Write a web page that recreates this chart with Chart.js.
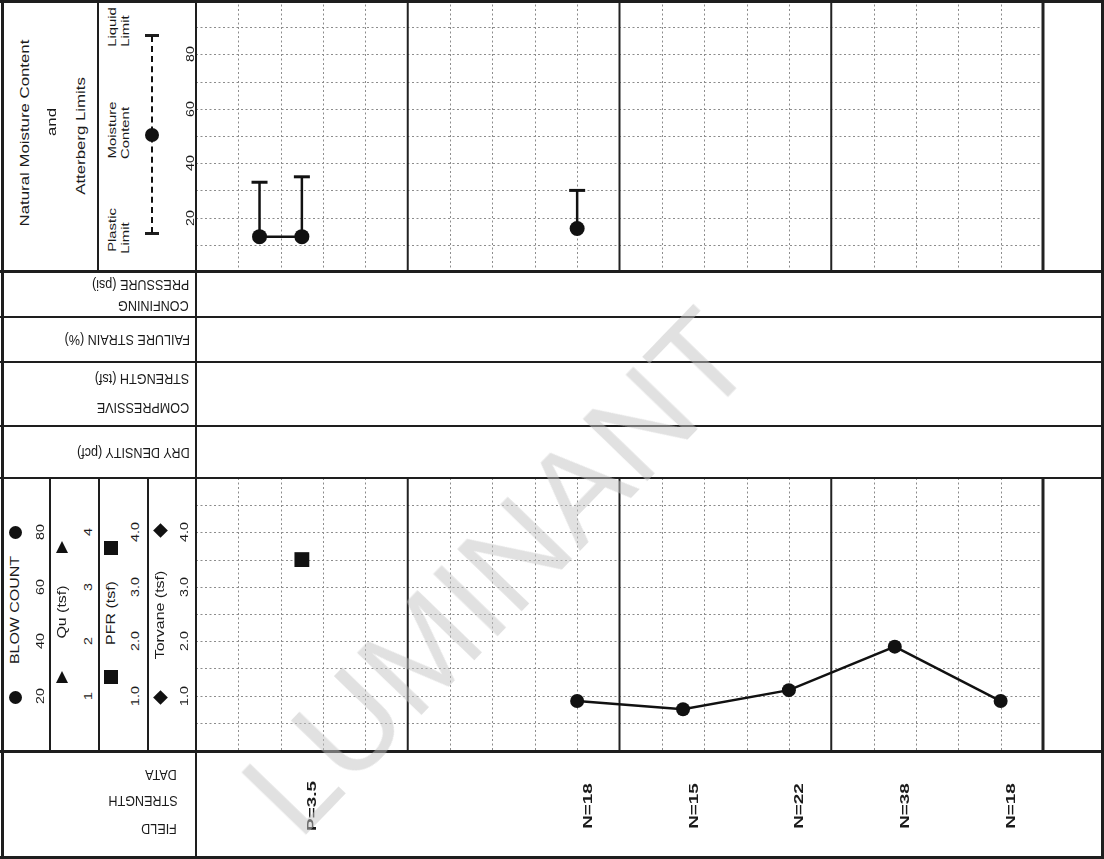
<!DOCTYPE html>
<html>
<head>
<meta charset="utf-8">
<script src="https://cdn.jsdelivr.net/npm/chart.js@4.4.1/dist/chart.umd.min.js"></script>
<style>
  body { margin: 0; background: #fff; }
  #log { position: relative; width: 1104px; height: 859px; overflow: hidden; background: #fff;
         font-family: "Liberation Sans", Arial, sans-serif; color: #1a1a1a; }
  canvas { position: absolute; z-index: 1; }
  .ln { position: absolute; background: #1e1e1e; z-index: 2; }
  .lbl { position: absolute; white-space: nowrap; z-index: 3; line-height: 1; }
  .sym { position: absolute; z-index: 3; background: #111; }
  #mark { position: absolute; left: 497px; top: 572px; z-index: 4; white-space: nowrap;
          font-size: 130px; color: rgba(195, 195, 195, 0.5); line-height: 1;
          transform: translate(-50%, -50%) rotate(-46deg); pointer-events: none; }
</style>
</head>
<body>
<div id="log">
  <canvas id="upper" width="851" height="272" style="left:196px;top:0px"></canvas>
  <canvas id="lower" width="851" height="381" style="left:196px;top:478px"></canvas>
  <div id="mark">LUMINANT</div>
</div>
<script>
// sample depths run left to right, 1 ft per minor grid line
const moistureDepth = [1.5, 2.5, 9];
const moistureContent = [13, 13, 16];
const liquidLimit = [33, 35, 30];

const blowDepth = [9, 11.5, 14, 16.5, 19];
const blowCount = [18, 15, 22, 38, 18];

const pfrDepth = [2.5];
const pfrValue = [3.5];

// no Qu / Torvane readings on this log
const quDepth = [];
const quValue = [];
const torvaneDepth = [];
const torvaneValue = [];

const moistureTicks = [20, 40, 60, 80];
const blowTicks = [20, 40, 60, 80];
const quTicks = ['1', '2', '3', '4'];
const pfrTicks = ['1.0', '2.0', '3.0', '4.0'];
const torvaneTicks = ['1.0', '2.0', '3.0', '4.0'];

const depthMax = 20;
const majorEvery = 5;
const gridStep = 10;

Chart.defaults.font.family = '"Liberation Sans", Arial, sans-serif';

const log = document.getElementById('log');

function hline(y, x1, x2, w) {
    const d = document.createElement('div');
    d.className = 'ln';
    d.style.cssText = `left:${x1}px;top:${y - w / 2}px;width:${x2 - x1}px;height:${w}px`;
    log.appendChild(d);
}

function vline(x, y1, y2, w) {
    const d = document.createElement('div');
    d.className = 'ln';
    d.style.cssText = `left:${x - w / 2}px;top:${y1}px;width:${w}px;height:${y2 - y1}px`;
    log.appendChild(d);
}

// rotated text, centred on (cx, cy)
function vtext(text, cx, cy, size, stretch, bold) {
    const d = document.createElement('div');
    d.className = 'lbl';
    d.textContent = text;
    d.style.left = cx + 'px';
    d.style.top = cy + 'px';
    d.style.fontSize = size + 'px';
    if (bold) d.style.fontWeight = 'bold';
    d.style.transform = `translate(-50%,-50%) rotate(-90deg) scale(${stretch},1.05)`;
    log.appendChild(d);
}

// upside-down text, right edge at rx
function ftext(text, rx, cy) {
    const d = document.createElement('div');
    d.className = 'lbl';
    d.textContent = text;
    d.style.left = rx + 'px';
    d.style.top = cy + 'px';
    d.style.fontSize = '12px';
    d.style.transform = 'translate(-100%,-50%) rotate(180deg) scale(1.05,1.2)';
    log.appendChild(d);
}

function symbol(kind, cx, cy, s) {
    const d = document.createElement('div');
    d.className = 'sym';
    let css = `left:${cx - s / 2}px;top:${cy - s / 2}px;width:${s}px;height:${s}px;`;
    if (kind === 'circle') css += 'border-radius:50%;';
    if (kind === 'diamond') css += 'transform:rotate(45deg) scale(0.8);';
    if (kind === 'triangle') {
        css = `left:${cx - s / 2}px;top:${cy - s / 2}px;width:0;height:0;background:none;` +
              `border-left:${s / 2}px solid transparent;border-right:${s / 2}px solid transparent;` +
              `border-bottom:${s}px solid #111;`;
    }
    d.style.cssText = css;
    log.appendChild(d);
}

const logGrid = {
    id: 'logGrid',
    beforeDatasetsDraw(chart) {
        const { ctx, chartArea: a } = chart;
        const x = chart.scales.x, y = chart.scales.y;
        ctx.save();
        ctx.strokeStyle = '#8c8c8c';
        ctx.lineWidth = 1;
        ctx.setLineDash([2, 2.5]);
        for (let v = gridStep; v < y.max; v += gridStep) {
            const py = Math.round(y.getPixelForValue(v)) + 0.5;
            ctx.beginPath(); ctx.moveTo(a.left, py); ctx.lineTo(a.right, py); ctx.stroke();
        }
        for (let d = 1; d < depthMax; d++) {
            if (d % majorEvery === 0) continue;
            const px = Math.round(x.getPixelForValue(d)) + 0.5;
            ctx.beginPath(); ctx.moveTo(px, a.top); ctx.lineTo(px, a.bottom); ctx.stroke();
        }
        ctx.setLineDash([]);
        ctx.strokeStyle = '#222';
        for (let d = majorEvery; d <= depthMax; d += majorEvery) {
            const px = x.getPixelForValue(d);
            ctx.lineWidth = d === depthMax ? 3 : 2;
            ctx.beginPath(); ctx.moveTo(px, a.top); ctx.lineTo(px, a.bottom); ctx.stroke();
        }
        ctx.restore();
    }
};

const atterbergBars = {
    id: 'atterbergBars',
    beforeDatasetsDraw(chart) {
        const { ctx } = chart;
        const x = chart.scales.x, y = chart.scales.y;
        ctx.save();
        ctx.strokeStyle = '#111';
        moistureDepth.forEach((d, i) => {
            const px = x.getPixelForValue(d);
            const top = y.getPixelForValue(liquidLimit[i]);
            const bot = y.getPixelForValue(moistureContent[i]);
            ctx.lineWidth = 2.5;
            ctx.beginPath(); ctx.moveTo(px, bot); ctx.lineTo(px, top); ctx.stroke();
            ctx.lineWidth = 3;
            ctx.beginPath(); ctx.moveTo(px - 8, top); ctx.lineTo(px + 8, top); ctx.stroke();
        });
        ctx.restore();
    }
};

const fieldLabels = {
    id: 'fieldLabels',
    afterDatasetsDraw(chart) {
        const { ctx, chartArea: a } = chart;
        const x = chart.scales.x;
        const items = pfrDepth.map((d, i) => ({ d, t: 'P=' + pfrValue[i] }))
            .concat(blowDepth.map((d, i) => ({ d, t: 'N=' + blowCount[i] })));
        ctx.save();
        ctx.fillStyle = '#1a1a1a';
        ctx.font = 'bold 13px "Liberation Sans", Arial, sans-serif';
        ctx.textAlign = 'center';
        ctx.textBaseline = 'middle';
        items.forEach(it => {
            ctx.save();
            ctx.translate(x.getPixelForValue(it.d) + 11, a.bottom + 56);
            ctx.rotate(-Math.PI / 2);
            ctx.scale(1.45, 1);
            ctx.fillText(it.t, 0, 0);
            ctx.restore();
        });
        ctx.restore();
    }
};

const baseOptions = {
    responsive: false,
    animation: false,
    events: [],
    plugins: { legend: { display: false }, tooltip: { enabled: false } }
};

const upper = new Chart(document.getElementById('upper'), {
    type: 'line',
    data: {
        datasets: [{
            label: 'Moisture Content',
            data: moistureDepth.map((d, i) => ({ x: d, y: moistureContent[i] })),
            borderColor: '#111',
            borderWidth: 2.5,
            spanGaps: 3,
            pointRadius: 7.5,
            pointBackgroundColor: '#111',
            pointBorderWidth: 0
        }]
    },
    options: Object.assign({}, baseOptions, {
        layout: { autoPadding: false, padding: { left: 0, right: 4, top: 0, bottom: 0 } },
        scales: {
            x: { type: 'linear', min: 0, max: depthMax, display: false },
            y: { min: 0, max: 100, display: false }
        }
    }),
    plugins: [logGrid, atterbergBars]
});

const lower = new Chart(document.getElementById('lower'), {
    type: 'line',
    data: {
        datasets: [{
            label: 'Blow Count',
            data: blowDepth.map((d, i) => ({ x: d, y: blowCount[i] })),
            borderColor: '#111',
            borderWidth: 2.5,
            pointRadius: 7,
            pointBackgroundColor: '#111',
            pointBorderWidth: 0
        }, {
            label: 'Qu (tsf)',
            data: quDepth.map((d, i) => ({ x: d, y: quValue[i] })),
            yAxisID: 'tsf',
            showLine: false,
            pointStyle: 'triangle',
            pointRadius: 7,
            pointBackgroundColor: '#111'
        }, {
            label: 'PFR (tsf)',
            data: pfrDepth.map((d, i) => ({ x: d, y: pfrValue[i] })),
            yAxisID: 'tsf',
            showLine: false,
            pointStyle: 'rect',
            pointRadius: 10.5,
            pointBackgroundColor: '#111',
            pointBorderWidth: 0
        }, {
            label: 'Torvane (tsf)',
            data: torvaneDepth.map((d, i) => ({ x: d, y: torvaneValue[i] })),
            yAxisID: 'tsf',
            showLine: false,
            pointStyle: 'rectRot',
            pointRadius: 7,
            pointBackgroundColor: '#111'
        }]
    },
    options: Object.assign({}, baseOptions, {
        layout: { autoPadding: false, padding: { left: 0, right: 4, top: 0, bottom: 109 } },
        scales: {
            x: { type: 'linear', min: 0, max: depthMax, display: false },
            y: { min: 0, max: 100, display: false },
            tsf: { min: 0, max: 5, display: false }
        }
    }),
    plugins: [logGrid, fieldLabels]
});

// frame
hline(1, 0, 1104, 3);
hline(857, 0, 1104, 3);
vline(2, 0, 859, 3);
vline(1102, 0, 859, 3);
vline(196, 0, 859, 2);
hline(271, 0, 1104, 3);
hline(317, 0, 1104, 1.5);
hline(362, 0, 1104, 1.5);
hline(426, 0, 1104, 1.5);
hline(478, 0, 1104, 2.5);
hline(751, 0, 1104, 3);
vline(98, 0, 271, 1.5);
vline(50, 478, 751, 1.5);
vline(99, 478, 751, 1.5);
vline(148, 478, 751, 1.5);

// upper header
vtext('Natural Moisture Content', 25, 133, 12, 1.4);
vtext('and', 52, 122, 12, 1.4);
vtext('Atterberg Limits', 81, 136, 12, 1.4);
vtext('Plastic', 112, 230, 11, 1.35);
vtext('Limit', 125, 238, 11, 1.35);
vtext('Moisture', 112, 130, 11, 1.35);
vtext('Content', 125, 133, 11, 1.35);
vtext('Liquid', 112, 27, 11, 1.35);
vtext('Limit', 125, 31, 11, 1.35);

// legend key for the Atterberg bar
(function () {
    const k = document.createElement('div');
    k.className = 'lbl';
    k.style.cssText = 'left:151px;top:36px;width:0;height:197px;border-left:2px dashed #111;';
    log.appendChild(k);
    hline(35, 145, 159, 3);
    hline(233, 145, 159, 3);
    symbol('circle', 152, 135, 14);
})();

moistureTicks.forEach(v => vtext(String(v), 190, upper.scales.y.getPixelForValue(v), 11, 1.3));

// lower header
const ly = v => 478 + lower.scales.y.getPixelForValue(v);
const lt = v => 478 + lower.scales.tsf.getPixelForValue(v);
vtext('BLOW COUNT', 15, 610, 12, 1.33);
symbol('circle', 15, 697, 13);
symbol('circle', 15, 532, 13);
blowTicks.forEach(v => vtext(String(v), 40, ly(v), 11, 1.3));

vtext('Qu (tsf)', 62, 612, 12, 1.33);
symbol('triangle', 62, 677, 12);
symbol('triangle', 62, 547, 12);
quTicks.forEach(v => vtext(v, 88, lt(parseFloat(v)), 11, 1.3));

vtext('PFR (tsf)', 111, 613, 12, 1.33);
symbol('square', 111, 677, 14);
symbol('square', 111, 548, 14);
pfrTicks.forEach(v => vtext(v, 135, lt(parseFloat(v)), 11, 1.3));

vtext('Torvane (tsf)', 160, 615, 12, 1.33);
symbol('diamond', 160, 697, 13);
symbol('diamond', 160, 530, 13);
torvaneTicks.forEach(v => vtext(v, 184, lt(parseFloat(v)), 11, 1.3));

// middle rows (upside down in the scan)
ftext('PRESSURE (psi)', 187, 285);
ftext('CONFINING', 187, 306);
ftext('FAILURE STRAIN (%)', 187, 340);
ftext('STRENGTH (tsf)', 187, 379);
ftext('COMPRESSIVE', 187, 408);
ftext('DRY DENSITY (pcf)', 187, 453);
ftext('DATA', 176, 775);
ftext('STRENGTH', 176, 801);
ftext('FIELD', 176, 829);
</script>
</body>
</html>
